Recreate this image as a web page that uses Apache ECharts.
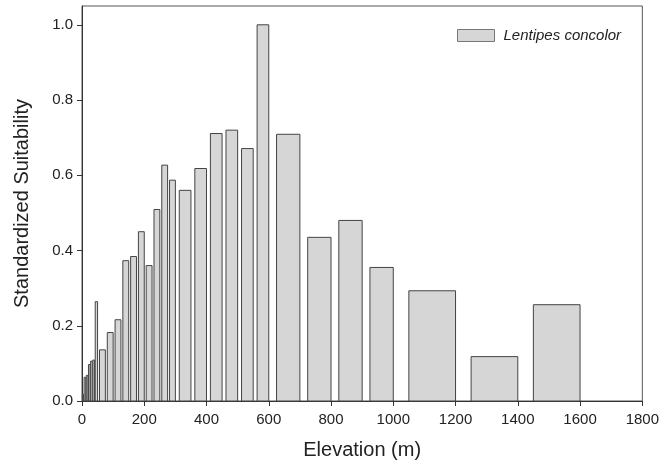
<!DOCTYPE html>
<html>
<head>
<meta charset="utf-8">
<script src="https://cdn.jsdelivr.net/npm/echarts@6/dist/echarts.min.js"></script>
<style>
  html, body { margin: 0; padding: 0; background: #fff; }
  #chart { width: 662px; height: 469px; }
</style>
</head>
<body>
<div id="chart"></div>
<script>
// elevation bins (m) and standardized suitability per bin
const binStart = [0, 5, 12, 19, 26, 33, 40, 50, 75, 100, 125, 150, 175, 200, 225, 250, 275,
  300, 350, 400, 450, 500, 550, 600, 700, 800, 900, 1000, 1200, 1400];
const binEnd = [5, 12, 19, 26, 33, 40, 50, 75, 100, 125, 150, 175, 200, 225, 250, 275, 300,
  350, 400, 450, 500, 550, 600, 700, 800, 900, 1000, 1200, 1400, 1600];
const suitability = [0.018, 0.063, 0.068, 0.097, 0.106, 0.109, 0.264, 0.136, 0.182, 0.216,
  0.373, 0.384, 0.45, 0.36, 0.509, 0.627, 0.587, 0.56, 0.618, 0.711, 0.72, 0.671, 1.0,
  0.709, 0.435, 0.48, 0.355, 0.293, 0.118, 0.256];
const yTicks = [0, 0.2, 0.4, 0.6, 0.8, 1.0];
const seriesName = 'Lentipes concolor';

const FONT = '"Liberation Sans", Arial, sans-serif';
const barFill = '#d6d6d6';
const barEdge = '#444';

const data = binStart.map((s, i) => [s, binEnd[i], suitability[i]]);

function renderBar(params, api) {
  const x0 = api.value(0);
  const x1 = api.value(1);
  const v = api.value(2);
  // bars sit at the right end of their bin, leaving a quarter of it empty
  const left = x0 + (x1 - x0) * 0.25;
  const p0 = api.coord([left, v]);
  const p1 = api.coord([x1, 0]);
  return {
    type: 'rect',
    shape: { x: p0[0], y: p0[1], width: p1[0] - p0[0], height: p1[1] - p0[1] },
    style: { fill: barFill, stroke: barEdge, lineWidth: 1 }
  };
}

const chart = echarts.init(document.getElementById('chart'));
chart.setOption({
  animation: false,
  grid: {
    left: 82, right: 19, top: 6, bottom: 68,
    show: true, borderColor: '#555', borderWidth: 1
  },
  legend: {
    left: 457, top: 28, padding: 0,
    itemWidth: 37, itemHeight: 12,
    data: [{ name: seriesName, icon: 'rect' }],
    itemStyle: { color: barFill, borderColor: '#777', borderWidth: 1 },
    textStyle: { fontFamily: FONT, fontSize: 15, fontStyle: 'italic', color: '#222', padding: [0, 0, 0, 4] }
  },
  xAxis: {
    type: 'value',
    min: 0, max: 1800, interval: 200,
    name: 'Elevation (m)',
    nameLocation: 'middle',
    nameGap: 39,
    nameTextStyle: { fontFamily: FONT, fontSize: 20, color: '#222' },
    axisLine: { show: true, lineStyle: { color: '#333' } },
    axisTick: { show: true, inside: false, length: 5, lineStyle: { color: '#333' } },
    axisLabel: { fontFamily: FONT, fontSize: 15, color: '#222', margin: 11, formatter: v => String(v) },
    splitLine: { show: false }
  },
  yAxis: {
    type: 'value',
    min: 0, max: 1.05,
    name: 'Standardized Suitability',
    nameLocation: 'middle',
    nameGap: 50,
    nameTextStyle: { fontFamily: FONT, fontSize: 20, color: '#222' },
    axisLine: { show: true, lineStyle: { color: '#333' } },
    axisTick: { show: true, inside: false, length: 5, customValues: yTicks, lineStyle: { color: '#333' } },
    axisLabel: {
      fontFamily: FONT, fontSize: 15, color: '#222', margin: 9,
      customValues: yTicks,
      formatter: v => v.toFixed(1)
    },
    splitLine: { show: false }
  },
  series: [{
    name: seriesName,
    type: 'custom',
    renderItem: renderBar,
    itemStyle: { color: barFill, borderColor: barEdge },
    encode: { x: [0, 1], y: 2 },
    data: data
  }]
});
</script>
</body>
</html>
